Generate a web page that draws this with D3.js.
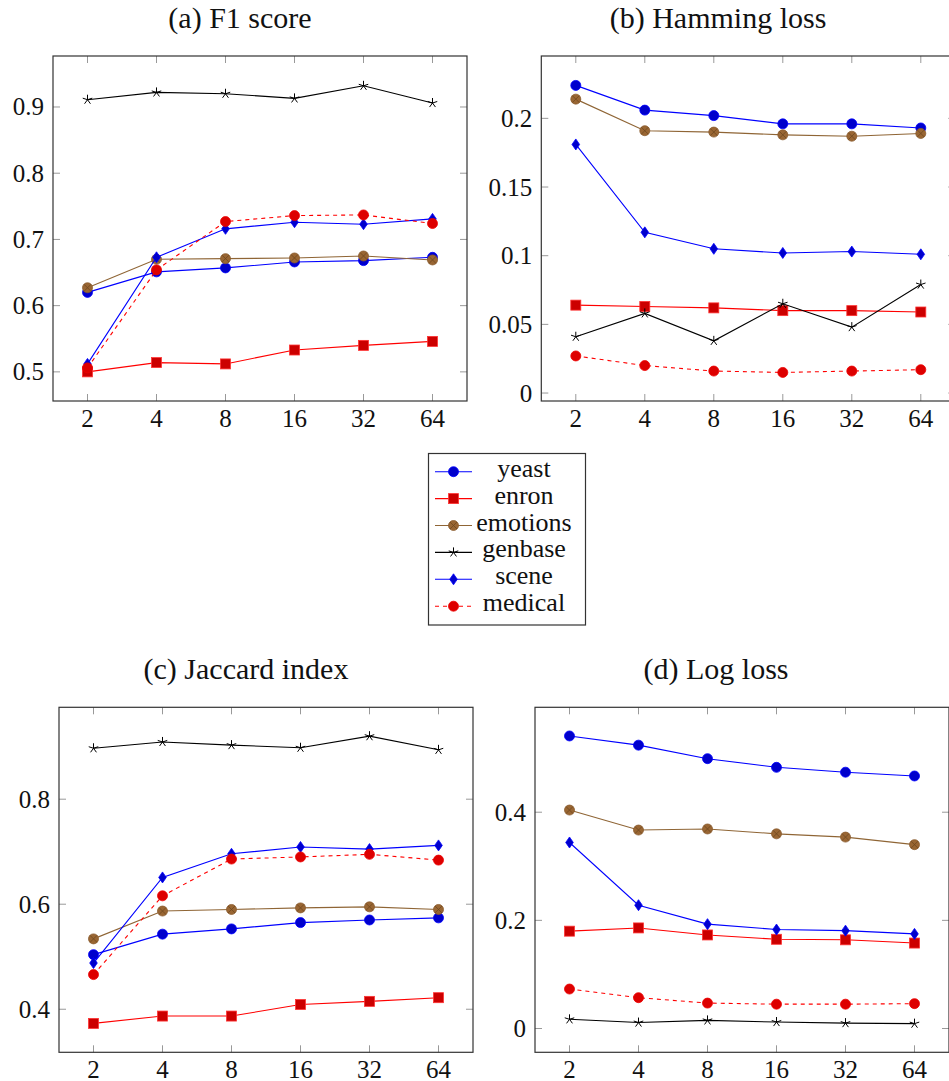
<!DOCTYPE html>
<html>
<head>
<meta charset="utf-8">
<script src="https://cdn.jsdelivr.net/npm/d3@7"></script>
<style>
  body { margin: 0; background: #fff; }
  svg { display: block; font-family: "Liberation Serif", "DejaVu Serif", serif; }
</style>
</head>
<body>
<div id="chart"></div>
<script>
// number of partitions on the x axis
var partitions = [2, 4, 8, 16, 32, 64];
var datasets = ["yeast", "enron", "emotions", "genbase", "scene", "medical"];

// rows follow the datasets order above
var f1Score = [
  [0.620, 0.651, 0.657, 0.666, 0.668, 0.673],
  [0.500, 0.514, 0.512, 0.533, 0.540, 0.546],
  [0.627, 0.670, 0.671, 0.672, 0.675, 0.669],
  [0.911, 0.922, 0.920, 0.913, 0.932, 0.906],
  [0.512, 0.673, 0.716, 0.726, 0.723, 0.731],
  [0.506, 0.654, 0.727, 0.736, 0.737, 0.724]
];
var hammingLoss = [
  [0.224, 0.206, 0.202, 0.196, 0.196, 0.193],
  [0.064, 0.063, 0.062, 0.060, 0.060, 0.059],
  [0.214, 0.191, 0.190, 0.188, 0.187, 0.189],
  [0.041, 0.058, 0.038, 0.065, 0.048, 0.079],
  [0.181, 0.117, 0.105, 0.102, 0.103, 0.101],
  [0.027, 0.020, 0.016, 0.015, 0.016, 0.017]
];
var jaccardIndex = [
  [0.504, 0.543, 0.553, 0.565, 0.570, 0.574],
  [0.373, 0.387, 0.387, 0.409, 0.415, 0.422],
  [0.534, 0.587, 0.590, 0.593, 0.595, 0.590],
  [0.897, 0.909, 0.903, 0.898, 0.920, 0.894],
  [0.488, 0.651, 0.696, 0.709, 0.705, 0.712],
  [0.466, 0.616, 0.686, 0.690, 0.695, 0.684]
];
var logLoss = [
  [0.541, 0.524, 0.499, 0.483, 0.474, 0.467],
  [0.180, 0.186, 0.173, 0.165, 0.164, 0.158],
  [0.404, 0.367, 0.369, 0.360, 0.354, 0.340],
  [0.017, 0.011, 0.015, 0.012, 0.010, 0.009],
  [0.344, 0.228, 0.193, 0.183, 0.181, 0.175],
  [0.073, 0.057, 0.047, 0.045, 0.045, 0.046]
];

var f1Ticks = [0.5, 0.6, 0.7, 0.8, 0.9];
var hammingTicks = [0, 0.05, 0.1, 0.15, 0.2];
var jaccardTicks = [0.4, 0.6, 0.8];
var logTicks = [0, 0.2, 0.4];

// line / mark styles per dataset
var styles = [
  {line: "#0000ff", fill: "#0000cc", edge: "#0000ff", mark: "circle", dash: null},
  {line: "#ff0000", fill: "#cc0000", edge: "#ff3333", mark: "square", dash: null},
  {line: "#8f6535", fill: "#996633", edge: "#8a5c2e", mark: "otimes", dash: null},
  {line: "#000000", fill: "none", edge: "#000000", mark: "star", dash: null},
  {line: "#0000ff", fill: "#0000cc", edge: "#0000ff", mark: "diamond", dash: null},
  {line: "#ff0000", fill: "#dd0000", edge: "#ee0000", mark: "circle", dash: "4,4"}
];

var W = 949, H = 1081;
var pw = 414, ph = 345;

var svg = d3.select("#chart").append("svg")
  .attr("width", W).attr("height", H);

function drawMark(g, type, st, x, y) {
  if (type == "circle") {
    g.append("circle").attr("cx", x).attr("cy", y).attr("r", 5)
      .attr("fill", st.fill).attr("stroke", st.edge).attr("stroke-width", 0.8);
  } else if (type == "square") {
    g.append("rect").attr("x", x - 5).attr("y", y - 5).attr("width", 10).attr("height", 10)
      .attr("fill", st.fill).attr("stroke", st.edge).attr("stroke-width", 0.8);
  } else if (type == "otimes") {
    g.append("circle").attr("cx", x).attr("cy", y).attr("r", 5)
      .attr("fill", st.fill).attr("stroke", st.edge).attr("stroke-width", 0.8);
    var k = 3.5;
    g.append("path")
      .attr("d", "M" + (x - k) + "," + (y - k) + "L" + (x + k) + "," + (y + k) +
                 "M" + (x - k) + "," + (y + k) + "L" + (x + k) + "," + (y - k))
      .attr("stroke", "#6e4720").attr("stroke-width", 0.8);
  } else if (type == "star") {
    var d = "";
    for (var i = 0; i < 5; i++) {
      var a = -Math.PI / 2 + i * 2 * Math.PI / 5;
      d += "M" + x + "," + y + "L" + (x + 5 * Math.cos(a)) + "," + (y + 5 * Math.sin(a));
    }
    g.append("path").attr("d", d).attr("stroke", st.edge).attr("stroke-width", 1).attr("fill", "none");
  } else if (type == "diamond") {
    g.append("path")
      .attr("d", "M" + x + "," + (y - 5.5) + "L" + (x + 3.8) + "," + y + "L" + x + "," + (y + 5.5) +
                 "L" + (x - 3.8) + "," + y + "Z")
      .attr("fill", st.fill).attr("stroke", st.edge).attr("stroke-width", 0.8);
  }
}

function panel(left, top, titleX, title, rows, yDomain, yTicks) {
  var g = svg.append("g").attr("transform", "translate(" + left + "," + top + ")");

  var xScale = d3.scaleLog().base(2)
    .domain([Math.SQRT2, 64 * Math.SQRT2])
    .range([0, pw]);
  var yScale = d3.scaleLinear().domain(yDomain).range([ph, 0]);

  // tick marks (inside, on all four sides)
  var tl = 7;
  partitions.forEach(function(p) {
    g.append("line").attr("x1", xScale(p)).attr("x2", xScale(p))
      .attr("y1", ph).attr("y2", ph - tl).attr("stroke", "#999").attr("stroke-width", 1);
    g.append("line").attr("x1", xScale(p)).attr("x2", xScale(p))
      .attr("y1", 0).attr("y2", tl).attr("stroke", "#999").attr("stroke-width", 1);
    g.append("text").attr("x", xScale(p)).attr("y", ph + 26)
      .attr("text-anchor", "middle").attr("font-size", 25).attr("fill", "#111")
      .text(p);
  });
  yTicks.forEach(function(t) {
    g.append("line").attr("x1", 0).attr("x2", tl)
      .attr("y1", yScale(t)).attr("y2", yScale(t)).attr("stroke", "#999").attr("stroke-width", 1);
    g.append("line").attr("x1", pw).attr("x2", pw - tl)
      .attr("y1", yScale(t)).attr("y2", yScale(t)).attr("stroke", "#999").attr("stroke-width", 1);
    g.append("text").attr("x", -9).attr("y", yScale(t) + 8.5)
      .attr("text-anchor", "end").attr("font-size", 25).attr("fill", "#111")
      .text(d3.format("")(t));
  });

  g.append("rect").attr("width", pw).attr("height", ph)
    .attr("fill", "none").attr("stroke", "#333").attr("stroke-width", 1.2);

  var line = d3.line()
    .x(function(d, i) { return xScale(partitions[i]); })
    .y(function(d) { return yScale(d); });

  rows.forEach(function(r, k) {
    var st = styles[k];
    g.append("path").datum(r)
      .attr("fill", "none").attr("stroke", st.line).attr("stroke-width", 1.1)
      .attr("stroke-dasharray", st.dash)
      .attr("d", line);
    r.forEach(function(v, i) {
      drawMark(g, st.mark, st, xScale(partitions[i]), yScale(v));
    });
  });

  // subcaption, centred on the whole subfigure (incl. tick labels)
  svg.append("text").attr("x", titleX).attr("y", top - 28)
    .attr("text-anchor", "middle").attr("font-size", 30).attr("fill", "#111")
    .text(title);
}

panel(53, 56, 240, "(a) F1 score", f1Score, [0.456, 0.977], f1Ticks);
panel(541.3, 56, 718, "(b) Hamming loss", hammingLoss, [-0.0058, 0.2454], hammingTicks);
panel(59, 707.3, 246, "(c) Jaccard index", jaccardIndex, [0.318, 0.975], jaccardTicks);
panel(535, 707.3, 716, "(d) Log loss", logLoss, [-0.044, 0.594], logTicks);

// legend
var lg = svg.append("g");
lg.append("rect").attr("x", 428.5).attr("y", 453.5).attr("width", 157).attr("height", 171.5)
  .attr("fill", "#fff").attr("stroke", "#333").attr("stroke-width", 1.2);
datasets.forEach(function(name, k) {
  var st = styles[k];
  var y = 471.7 + k * 26.9;
  lg.append("line").attr("x1", 435).attr("x2", 472).attr("y1", y).attr("y2", y)
    .attr("stroke", st.line).attr("stroke-width", 1.1).attr("stroke-dasharray", st.dash);
  drawMark(lg, st.mark, st, 453.5, y);
  lg.append("text").attr("x", 524).attr("y", y + 5)
    .attr("text-anchor", "middle").attr("font-size", 26).attr("fill", "#111")
    .text(name);
});
</script>
</body>
</html>
